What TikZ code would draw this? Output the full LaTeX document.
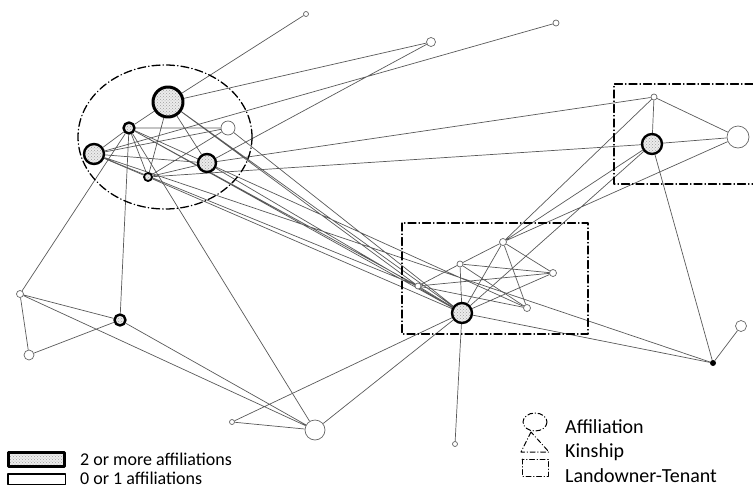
\documentclass[tikz,border=0pt]{standalone}
\usepackage{fontspec}
\setmainfont{Carlito}
\usetikzlibrary{patterns}
\usetikzlibrary{backgrounds}

\begin{document}
\begin{tikzpicture}[x = 1pt, y = -1pt, line join = round, line cap = round,
  affil/.style = {circle, draw = black, line width = 2.4pt, inner sep = 0pt,
    preaction = {fill = gray!15}, pattern = crosshatch dots, pattern color = gray!75},
  plain/.style = {circle, draw = gray!80!black, line width = 0.7pt, fill = white,
    inner sep = 0pt},
  tie/.style = {draw = gray!70!black, line width = 0.7pt},
  group/.style = {black, line width = 1.3pt,
    dash pattern = on 8pt off 3pt on 0.5pt off 3pt},
  legend/.style = {anchor = base west, inner sep = 0pt}]
  \useasboundingbox (0, 0) rectangle (753, 488);

  % actors with two or more affiliations
  \node[affil, minimum size = 30, line width = 3pt] (F1) at (168, 102) {};
  \node[affil, minimum size = 11] (F2) at (129, 128) {};
  \node[affil, minimum size = 20] (F3) at (94, 154) {};
  \node[affil, minimum size = 18] (F4) at (207, 163) {};
  \node[affil, minimum size = 8, line width = 1.8pt] (F5) at (148, 177) {};
  \node[affil, minimum size = 20] (F6) at (652, 144) {};
  \node[affil, minimum size = 20] (F7) at (462, 313) {};
  \node[affil, minimum size = 11] (F8) at (120, 320) {};
  \node[circle, fill = black, minimum size = 6, inner sep = 0pt] (F9) at (713, 363) {};

  % actors with none or one
  \node[plain, minimum size = 14] (E1) at (228, 128) {};
  \node[plain, minimum size = 5] (E2) at (306, 14) {};
  \node[plain, minimum size = 9] (E3) at (431, 42) {};
  \node[plain, minimum size = 6] (E4) at (556, 23) {};
  \node[plain, minimum size = 6] (E5) at (654, 97) {};
  \node[plain, minimum size = 22] (E6) at (738, 137) {};
  \node[plain, minimum size = 7] (E7) at (503, 242) {};
  \node[plain, minimum size = 6] (E8) at (460, 264) {};
  \node[plain, minimum size = 7] (E9) at (553, 273) {};
  \node[plain, minimum size = 6] (E10) at (418, 286) {};
  \node[plain, minimum size = 7] (E11) at (527, 308) {};
  \node[plain, minimum size = 7] (E12) at (20, 294) {};
  \node[plain, minimum size = 10] (E13) at (29, 355) {};
  \node[plain, minimum size = 11] (E14) at (741, 326) {};
  \node[plain, minimum size = 20] (E15) at (315, 430) {};
  \node[plain, minimum size = 5] (E16) at (232, 422) {};
  \node[plain, minimum size = 5] (E17) at (455, 444) {};

  \begin{scope}[on background layer]
    \draw[tie] (F1) -- (F2) (F1) -- (F5) (F1) -- (F4) (F2) -- (F3) (F2) -- (E1)
      (F2) -- (F5) (F2) -- (F4) (F3) -- (E1) (F3) -- (F4) (F3) -- (F5)
      (F5) -- (E1) (F5) -- (F4);
    \draw[tie] (F1) -- (E2) (F1) -- (E3) (F3) -- (E4) (F4) -- (E3) (F4) -- (E5)
      (F5) -- (F6) (F2) -- (E12) (F2) -- (F8) (F2) -- (E15);
    \draw[tie] (F1) -- (F7) (F1) -- (E10) (E1) -- (F7) (F2) -- (F7) (F2) -- (E10)
      (F4) -- (F7) (F3) -- (E10) (F5) -- (F7) (F4) -- (E11) (F3) -- (F9);
    \draw[tie] (E7) -- (E8) (E8) -- (E10) (E10) -- (E9) (E7) -- (E9) (E7) -- (F7)
      (E7) -- (E11) (E8) -- (E9) (E8) -- (E11) (E8) -- (F7) (F7) -- (E9)
      (E10) -- (E11) (E10) -- (F7);
    \draw[tie] (E5) -- (F6) (E5) -- (E6) (F6) -- (E6) (E5) -- (E7) (F6) -- (E7)
      (E6) -- (E7) (F6) -- (F7) (F6) -- (F9) (F9) -- (E14) (F7) -- (F9);
    \draw[tie] (E12) -- (F8) (E12) -- (E13) (E12) -- (E15) (F8) -- (E13)
      (F8) -- (E15) (E15) -- (E16) (E16) -- (F7) (E15) -- (F7) (F7) -- (E17);
  \end{scope}

  % affiliation, landowner-tenant groups
  \draw[group] (165, 137) ellipse [x radius = 87, y radius = 72];
  \draw[group] (402, 223) rectangle (588, 334);
  \draw[group] (753, 84) -- (614, 84) -- (614, 184) -- (753, 184);

  % key
  \node[affil, rectangle, minimum width = 56, minimum height = 14, line width = 3pt]
    (box1) at (36.5, 459.5) {};
  \node[rectangle, draw, minimum width = 57.5, minimum height = 10.5,
    line width = 1.5pt, inner sep = 0pt] (box2) at (36.5, 479) {};
  \node[legend, font = \fontsize{18}{20}\selectfont] (lab1) at (80, 465)
    {2 or more affiliations};
  \node[legend, font = \fontsize{18}{20}\selectfont] (lab2) at (80, 484)
    {0 or 1 affiliations};

  \begin{scope}[group, line width = 1pt, dash pattern = on 5pt off 2.5pt on 0.5pt off 2.5pt]
    \draw (535, 422) ellipse [x radius = 12, y radius = 9];
    \draw (531, 432) -- (521, 452) -- (549, 452) -- cycle;
    \draw (522, 459) rectangle (548, 476);
  \end{scope}
  \node[legend, font = \fontsize{20}{22}\selectfont] (lab3) at (565, 433) {Affiliation};
  \node[legend, font = \fontsize{20}{22}\selectfont] (lab4) at (565, 457) {Kinship};
  \node[legend, font = \fontsize{20}{22}\selectfont] (lab5) at (565, 482)
    {Landowner-Tenant};
\end{tikzpicture}
\end{document}
